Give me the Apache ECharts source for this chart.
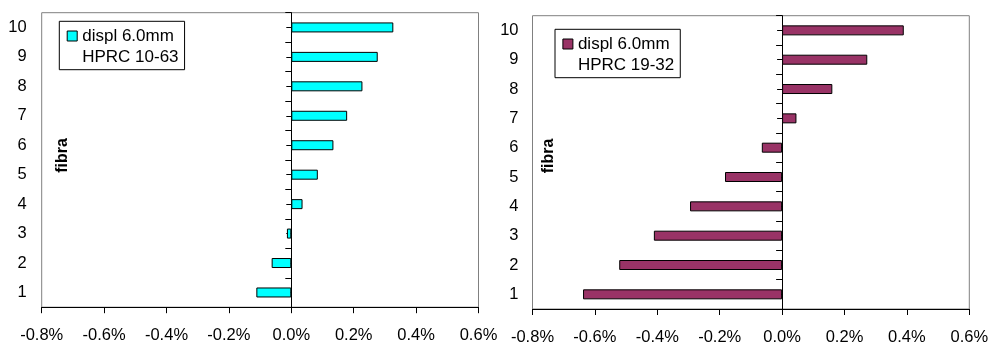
<!DOCTYPE html>
<html><head><meta charset="utf-8">
<script src="https://cdn.jsdelivr.net/npm/echarts@6/dist/echarts.min.js"></script>
<style>html,body{margin:0;padding:0;background:#fff}#c{width:989px;height:342px}</style>
</head><body><div id="c"></div>
<script>
// ---- data ----
const categories = ['1', '2', '3', '4', '5', '6', '7', '8', '9', '10'];
const leftValues = [-0.112, -0.063, -0.014, 0.036, 0.085, 0.135, 0.179, 0.228, 0.277, 0.327];
const rightValues = [-0.638, -0.522, -0.411, -0.295, -0.183, -0.065, 0.046, 0.161, 0.273, 0.390];
const xMin = -0.8, xMax = 0.6, xInterval = 0.2;
const leftLegendLines = ['displ 6.0mm', 'HPRC 10-63'];
const rightLegendLines = ['displ 6.0mm', 'HPRC 19-32'];
const yTitle = 'fibra';

const FONT = '"Liberation Sans", Arial, sans-serif';
const chart = echarts.init(document.getElementById('c'), null, {renderer: 'canvas'});

function fmtPct(v) {
  if (Math.abs(v) < 1e-9) v = 0;
  return v.toFixed(1) + '%';
}

// legend icon: 10x10 square at the top of a taller item so it lines up with the first text line
const LINE_H = 21.7;
const ICON_H = 10 + LINE_H;
const legendIcon = 'path://M0,0H10V10H0Z M0,' + ICON_H + 'Z';

const panels = [
  {grid: {left: 41.7, top: 12.7, width: 436.8, height: 294.5}, values: leftValues, color: '#00FFFF',
   legendLines: leftLegendLines, legendPos: {left: 59.3, top: 21.3}, labelMargin: 15, title: {x: 62.5, y: 155.5}},
  {grid: {left: 532.5, top: 15.7, width: 436.8, height: 293.3}, values: rightValues, color: '#993366',
   legendLines: rightLegendLines, legendPos: {left: 555, top: 29.3}, labelMargin: 14, title: {x: 549, y: 156}}
];

const option = {
  animation: false,
  backgroundColor: '#fff',
  grid: [], xAxis: [], yAxis: [], series: [], legend: [], graphic: []
};

panels.forEach((p, i) => {
  const name = p.legendLines.join('\n');
  option.grid.push(Object.assign({show: true, borderColor: '#808080', borderWidth: 1,
    backgroundColor: 'transparent', containLabel: false, outerBoundsMode: 'none'}, p.grid));
  option.xAxis.push({
    type: 'value', gridIndex: i, min: xMin, max: xMax, interval: xInterval,
    axisLine: {show: true, onZero: false, lineStyle: {color: '#000', width: 1}},
    axisTick: {show: true, length: 6, lineStyle: {color: '#000'}},
    splitLine: {show: false},
    axisLabel: {formatter: fmtPct, color: '#000', fontFamily: FONT, fontSize: 16.5, margin: 20}
  });
  const base = i * 3;
  // category labels on the left edge
  option.yAxis.push({
    type: 'category', gridIndex: i, data: categories, position: 'left',
    axisLine: {show: false, onZero: false}, axisTick: {show: false}, splitLine: {show: false},
    axisLabel: {color: '#000', fontFamily: FONT, fontSize: 16.5, margin: p.labelMargin}
  });
  // axis line at zero with boundary ticks
  option.yAxis.push({
    type: 'category', gridIndex: i, data: categories, position: 'left',
    axisLine: {show: true, onZero: true, onZeroAxisIndex: i, lineStyle: {color: '#000', width: 1}},
    axisTick: {show: true, alignWithLabel: false, length: 6, lineStyle: {color: '#000'}},
    axisLabel: {show: false}, splitLine: {show: false}
  });
  // center ticks at zero
  option.yAxis.push({
    type: 'category', gridIndex: i, data: categories, position: 'left',
    axisLine: {show: false, onZero: true, onZeroAxisIndex: i},
    axisTick: {show: true, alignWithLabel: true, length: 5, lineStyle: {color: '#000'}},
    axisLabel: {show: false}, splitLine: {show: false}
  });
  option.series.push({
    type: 'bar', name: name, xAxisIndex: i, yAxisIndex: base, data: p.values, barWidth: 10,
    itemStyle: {color: p.color, borderColor: '#000', borderWidth: 1}
  });
  option.legend.push(Object.assign({
    data: [{name: name, icon: legendIcon}], orient: 'vertical', itemWidth: 10, itemHeight: ICON_H,
    selectedMode: false,
    itemStyle: {borderColor: '#000', borderWidth: 1},
    borderColor: '#000', borderWidth: 1, backgroundColor: '#fff',
    padding: [3.85, 6, 1.15, 7.4],
    textStyle: {color: '#000', fontFamily: FONT, fontSize: 17, lineHeight: LINE_H}
  }, p.legendPos));
  option.graphic.push({
    type: 'text', x: p.title.x, y: p.title.y, rotation: Math.PI / 2,
    style: {text: yTitle, font: 'bold 16px ' + FONT, fill: '#000', align: 'center', verticalAlign: 'middle'}
  });
});

chart.setOption(option);
</script>
</body></html>
